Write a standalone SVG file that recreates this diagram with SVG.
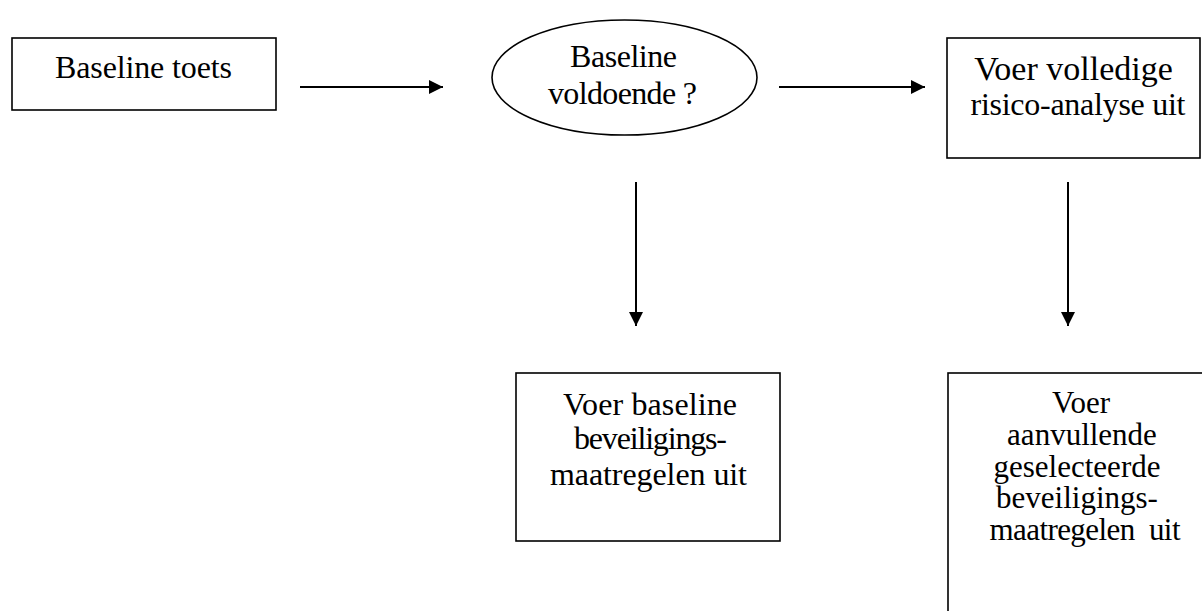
<svg xmlns="http://www.w3.org/2000/svg" width="1202" height="611" viewBox="0 0 1202 611">
  <style>
    .box { fill: #ffffff; stroke: #000000; stroke-width: 1.6; }
    .lbl { font-family: "Liberation Serif", "Times New Roman", serif; font-size: 32px; fill: #000000; text-anchor: middle; white-space: pre; }
    .sm { font-size: 31px; }
    .conn { stroke: #000000; stroke-width: 2; fill: none; marker-end: url(#arrow); }
  </style>
  <defs>
    <marker id="arrow" viewBox="0 0 10 10" refX="10" refY="5" markerUnits="userSpaceOnUse" markerWidth="15" markerHeight="14" orient="auto">
      <path d="M0,0 L10,5 L0,10 Z" fill="#000000"/>
    </marker>
  </defs>
  <rect width="1202" height="611" fill="#ffffff"/>

  <g id="connectors">
    <line class="conn" x1="300" y1="87" x2="443" y2="87"/>
    <line class="conn" x1="779" y1="87" x2="925" y2="87"/>
    <line class="conn" x1="636" y1="182" x2="636" y2="326"/>
    <line class="conn" x1="1068" y1="182" x2="1068" y2="326"/>
  </g>

  <g id="node-baseline-toets">
    <rect class="box" x="12" y="38" width="264" height="72"/>
    <text class="lbl" x="143.5" y="78" textLength="177" lengthAdjust="spacing">Baseline toets</text>
  </g>

  <g id="node-baseline-voldoende">
    <ellipse class="box" cx="624.5" cy="77.5" rx="132.5" ry="57.5"/>
    <text class="lbl" x="623.5" y="67" textLength="107" lengthAdjust="spacing">Baseline</text>
    <text class="lbl" x="622.5" y="104" textLength="149" lengthAdjust="spacing">voldoende ?</text>
  </g>

  <g id="node-risico-analyse">
    <rect class="box" x="947" y="38" width="253" height="120"/>
    <text class="lbl" x="1073.5" y="80" style="font-size:34px">Voer volledige</text>
    <text class="lbl" x="1078" y="115" textLength="215" lengthAdjust="spacing">risico-analyse uit</text>
  </g>

  <g id="node-baseline-maatregelen">
    <rect class="box" x="516" y="373" width="264" height="168"/>
    <text class="lbl" x="650" y="415" textLength="174" lengthAdjust="spacing">Voer baseline</text>
    <text class="lbl" x="650.5" y="449" textLength="153" lengthAdjust="spacing">beveiligings-</text>
    <text class="lbl" x="648.5" y="485" textLength="197" lengthAdjust="spacing">maatregelen uit</text>
  </g>

  <g id="node-aanvullende-maatregelen">
    <rect class="box" x="948" y="373" width="274" height="260"/>
    <text class="lbl sm" x="1081" y="413">Voer</text>
    <text class="lbl sm" x="1082" y="445">aanvullende</text>
    <text class="lbl sm" x="1077" y="477">geselecteerde</text>
    <text class="lbl sm" x="1077" y="508">beveiligings-</text>
    <text class="lbl sm" x="1085" y="540" textLength="191" lengthAdjust="spacing">maatregelen  uit</text>
  </g>
</svg>
